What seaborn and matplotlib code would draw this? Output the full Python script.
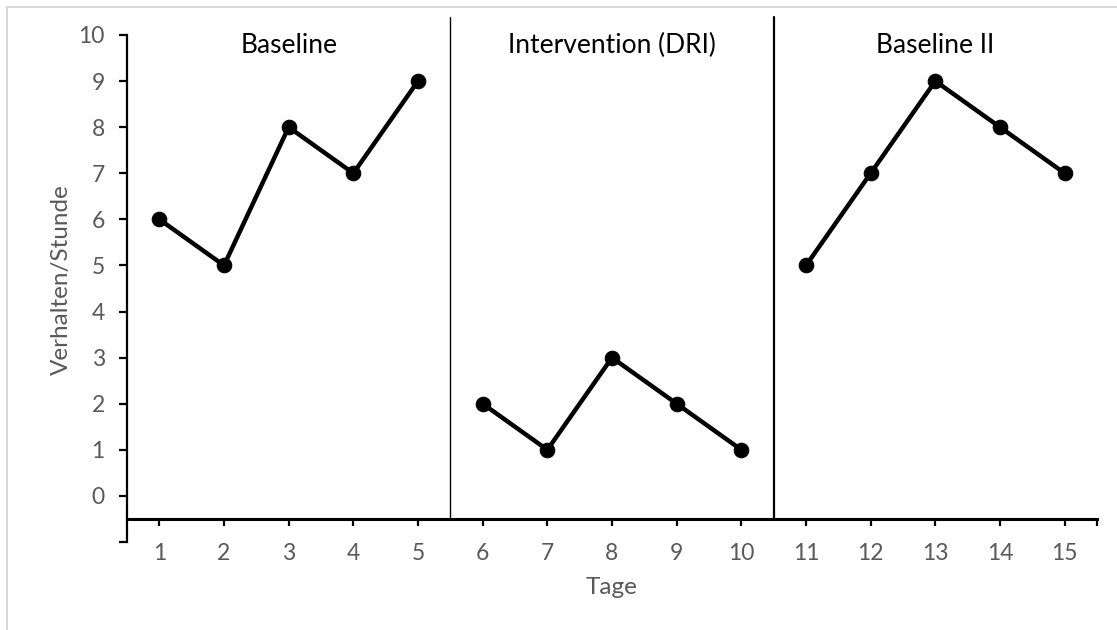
import matplotlib
matplotlib.use("Agg")
import matplotlib.pyplot as plt
import seaborn as sns
import pandas as pd
from matplotlib.patches import Rectangle

days = list(range(1, 16))
values = [6, 5, 8, 7, 9, 2, 1, 3, 2, 1, 5, 7, 9, 8, 7]
phases = ["Baseline"] * 5 + ["Intervention (DRI)"] * 5 + ["Baseline II"] * 5
phase_labels = ["Baseline", "Intervention (DRI)", "Baseline II"]
phase_centers = [3, 8, 13]
phase_breaks = [5.5, 10.5]
y_ticks = list(range(0, 11))

df = pd.DataFrame({"Tage": days, "Wert": values, "Phase": phases})

sns.set_theme(style="white")
plt.rcParams["font.family"] = ["Lato", "DejaVu Sans"]

fig = plt.figure(figsize=(11.17, 6.30), dpi=100)
W, H = 1117, 630
left, right, top, bottom = 127, 1097, 17, 542
ax = fig.add_axes([left / W, 1 - bottom / H, (right - left) / W, (bottom - top) / H])

sns.lineplot(data=df, x="Tage", y="Wert", hue="Phase", units="Phase", estimator=None,
             palette=["black"] * 3, linewidth=3.2, marker="o", markersize=10.5,
             markeredgecolor="black", legend=False, ax=ax)

ax.set_xlim(0.5, 15.5)
ax.set_ylim(-1, 10.39)

for xb, lw in zip(phase_breaks, [1.0, 1.6]):
    ax.plot([xb, xb], [-0.5, 10.39], color="black", linewidth=lw, clip_on=False)

for lbl, xc in zip(phase_labels, phase_centers):
    ax.text(xc, 9.78, lbl, ha="center", va="center", fontsize=19, color="black")

for s in ["top", "right"]:
    ax.spines[s].set_visible(False)
ax.spines["left"].set_bounds(-1, 10)
ax.spines["left"].set_linewidth(1.6)
ax.spines["left"].set_color("black")
ax.spines["bottom"].set_position(("data", -0.5))
ax.spines["bottom"].set_linewidth(2.2)
ax.spines["bottom"].set_color("black")

ax.set_yticks([-1] + y_ticks)
ax.set_yticklabels([""] + [str(t) for t in y_ticks])
ax.set_xticks(days)
ax.set_xticklabels([str(d) for d in days])
ax.set_xticks([15.5], minor=True)
ax.tick_params(axis="y", direction="out", length=6, width=1.6, color="black",
               labelsize=16.5, labelcolor="#595959", pad=10, left=True)
ax.tick_params(axis="x", which="both", direction="out", length=5, width=1.6, color="black",
               labelsize=16.5, labelcolor="#595959", pad=12, bottom=True)

ax.set_xlabel("Tage", fontsize=17.5, color="#595959", labelpad=10)
ax.set_ylabel("Verhalten/Stunde", fontsize=17.5, color="#595959", labelpad=5)

fig.patches.append(Rectangle((7 / W, -0.1), 1.2, 1 - 7 / H + 0.1, transform=fig.transFigure,
                             fill=False, edgecolor="#d9d9d9", linewidth=1.5))

fig.savefig("out.png", dpi=100)
